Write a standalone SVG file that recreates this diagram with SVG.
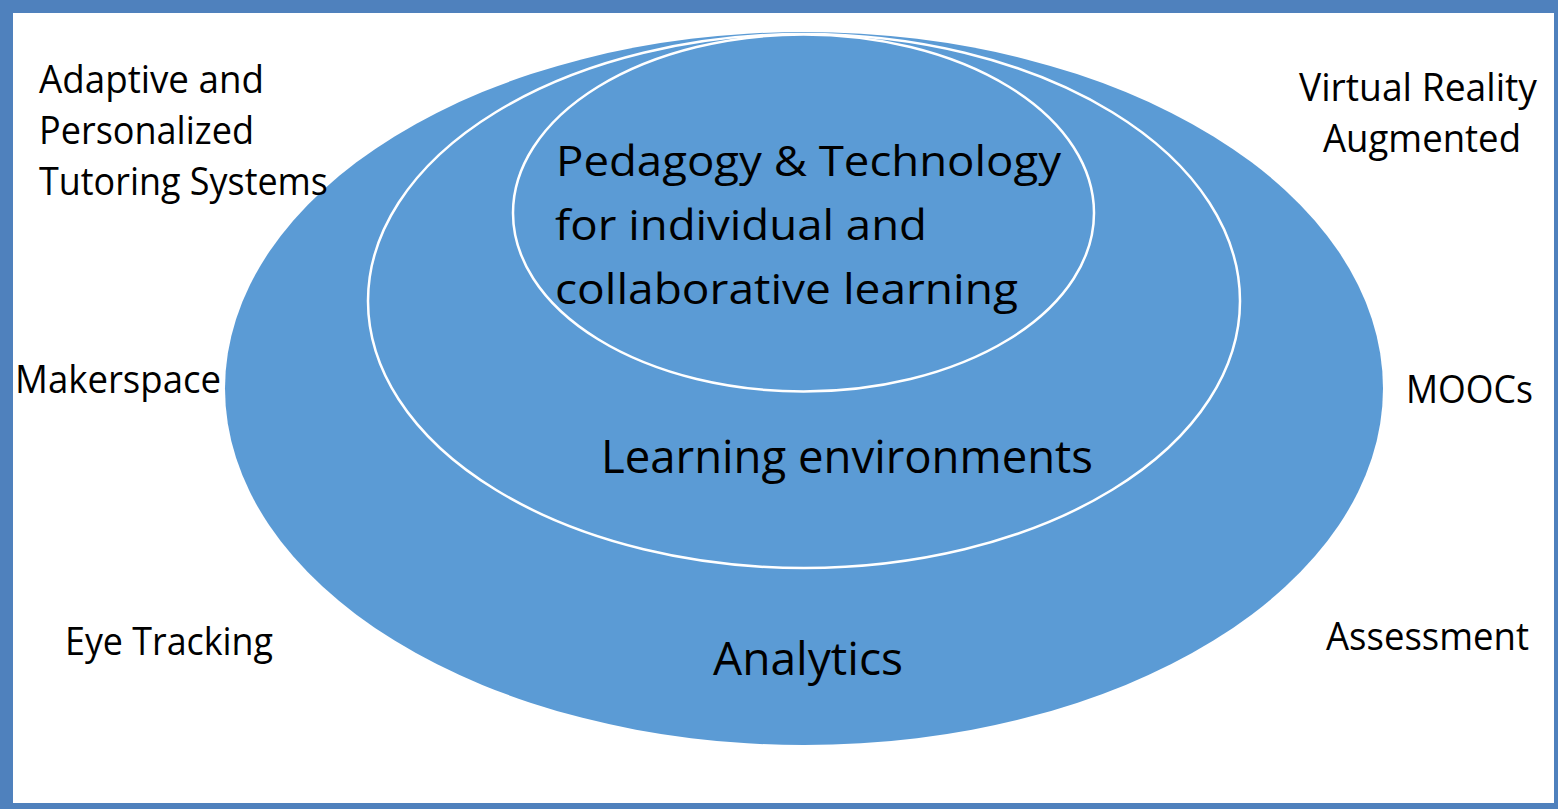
<svg xmlns="http://www.w3.org/2000/svg" width="1558" height="809" viewBox="0 0 1558 809">
<style>
.bg{fill:#FFFFFF}
.frame{fill:none;stroke:#4F81BD;stroke-width:13}
.ring{fill:#5B9BD5}
.ring-line{fill:#5B9BD5;stroke:#FFFFFF;stroke-width:2.5}
text{font-family:"Open Sans","Noto Sans","Liberation Sans",sans-serif;fill:#000000}
.lbl{font-size:39px}
.main{font-size:46px}
.inner{font-size:42px}
</style>
<rect class="bg" x="0" y="0" width="1558" height="809"/>
<g id="outer-ellipse">
<ellipse class="ring" cx="804" cy="388.5" rx="579" ry="356.5"/>
<text class="main" x="713" y="675" textLength="190" lengthAdjust="spacingAndGlyphs">Analytics</text>
</g>
<g id="middle-ellipse">
<ellipse class="ring-line" cx="804" cy="301" rx="436" ry="267"/>
<text class="main" x="601" y="473" textLength="492" lengthAdjust="spacingAndGlyphs">Learning environments</text>
</g>
<g id="inner-ellipse">
<ellipse class="ring-line" cx="803.5" cy="213" rx="290.5" ry="178.5"/>
<text class="inner" x="556" y="176" textLength="505" lengthAdjust="spacingAndGlyphs">Pedagogy &amp; Technology</text>
<text class="inner" x="555" y="240" textLength="372" lengthAdjust="spacingAndGlyphs">for individual and</text>
<text class="inner" x="555" y="304" textLength="463" lengthAdjust="spacingAndGlyphs">collaborative learning</text>
</g>
<g id="label-adaptive">
<text class="lbl" x="39" y="93" textLength="225" lengthAdjust="spacingAndGlyphs">Adaptive and</text>
<text class="lbl" x="39" y="144" textLength="215" lengthAdjust="spacingAndGlyphs">Personalized</text>
<text class="lbl" x="39" y="195" textLength="289" lengthAdjust="spacingAndGlyphs">Tutoring Systems</text>
</g>
<g id="label-vr">
<text class="lbl" x="1299" y="101" textLength="238" lengthAdjust="spacingAndGlyphs">Virtual Reality</text>
<text class="lbl" x="1323" y="152" textLength="198" lengthAdjust="spacingAndGlyphs">Augmented</text>
</g>
<g id="label-makerspace">
<text class="lbl" x="15" y="393" textLength="206" lengthAdjust="spacingAndGlyphs">Makerspace</text>
</g>
<g id="label-moocs">
<text class="lbl" x="1406" y="403" textLength="127" lengthAdjust="spacingAndGlyphs">MOOCs</text>
</g>
<g id="label-eye">
<text class="lbl" x="65" y="655" textLength="208" lengthAdjust="spacingAndGlyphs">Eye Tracking</text>
</g>
<g id="label-assessment">
<text class="lbl" x="1326" y="650" textLength="203" lengthAdjust="spacingAndGlyphs">Assessment</text>
</g>
<g id="connectors"></g>
<rect class="frame" x="6.5" y="6.5" width="1554" height="803"/>
</svg>
